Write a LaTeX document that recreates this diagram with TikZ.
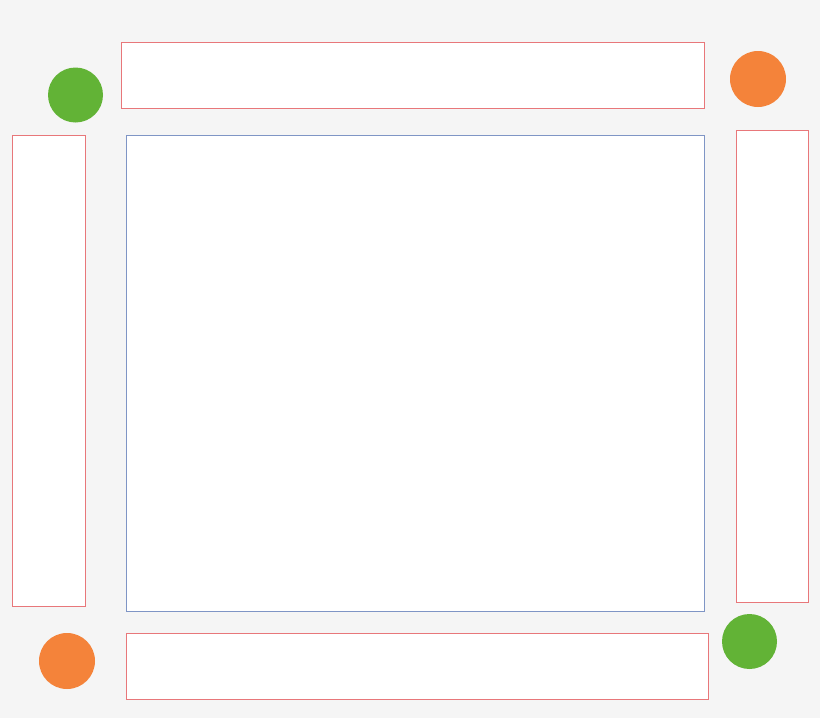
\documentclass[tikz,border=0pt]{standalone}
\usetikzlibrary{positioning}
\definecolor{bgc}{HTML}{F5F5F5}
\definecolor{redline}{HTML}{E8777A}
\definecolor{blueline}{HTML}{7F95C5}
\definecolor{dotgreen}{HTML}{62B336}
\definecolor{dotorange}{HTML}{F4833A}
\begin{document}
\begin{tikzpicture}[x=1pt,y=-1pt,
  panel/.style={draw=redline,fill=white,line width=0.9pt,inner sep=0pt,outer sep=0pt},
  mainpanel/.style={draw=blueline,fill=white,line width=0.9pt,inner sep=0pt,outer sep=0pt},
  greendot/.style={circle,fill=dotgreen,inner sep=0pt,minimum size=55pt},
  orangedot/.style={circle,fill=dotorange,inner sep=0pt,minimum size=56pt}]
\fill[bgc] (0,0) rectangle (820,718);
\useasboundingbox (0,0) rectangle (820,718);
\node[panel,minimum width=583pt,minimum height=66pt] (top) at (412.5,75) {};
\node[panel,minimum width=73pt,minimum height=471pt] (left) at (48.5,370.5) {};
\node[mainpanel,minimum width=578pt,minimum height=476pt] (center) at (415,373) {};
\node[panel,minimum width=72pt,minimum height=472pt] (right) at (772,366) {};
\node[panel,minimum width=582pt,minimum height=66pt] (bottom) at (417,666) {};
\node[greendot] (g1) at (75.5,95) {};
\node[orangedot] (o1) at (758,79) {};
\node[orangedot] (o2) at (67,661) {};
\node[greendot] (g2) at (749.5,641.5) {};
\end{tikzpicture}
\end{document}
